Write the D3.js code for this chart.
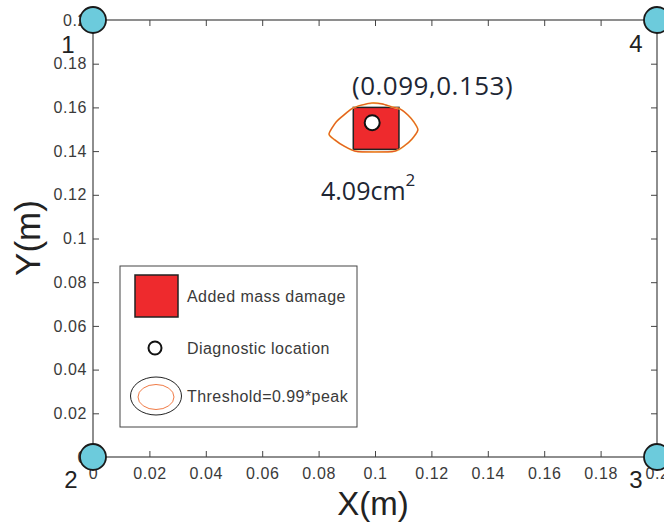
<!DOCTYPE html>
<html><head><meta charset="utf-8">
<script src="https://cdn.jsdelivr.net/npm/d3@7"></script>
<style>
html,body{margin:0;padding:0;background:#fff;}
svg{display:block;}
</style></head>
<body>
<svg id="chart" width="664" height="525"></svg>
<script>
// ---- data ----
const xTicks = [0,0.02,0.04,0.06,0.08,0.1,0.12,0.14,0.16,0.18,0.2];
const yTicks = [0,0.02,0.04,0.06,0.08,0.1,0.12,0.14,0.16,0.18,0.2];
const sensorIds = ["1","2","3","4"];
const sensorX = [0, 0, 0.2, 0.2];
const sensorY = [0.2, 0, 0, 0.2];
const damageX = [0.0923, 0.1085];
const damageY = [0.1408, 0.1600];
const diagnosticX = 0.099;
const diagnosticY = 0.153;
const contourX = [0.0837,0.0862,0.0894,0.0922,0.0954,0.0989,0.1025,0.1060,0.1089,0.1117,0.1138,0.1152,0.1131,0.1103,0.1071,0.1000,0.0929,0.0890,0.0858];
const contourY = [0.1478,0.1533,0.1570,0.1597,0.1611,0.1620,0.1616,0.1602,0.1593,0.1565,0.1533,0.1497,0.1455,0.1423,0.1400,0.1396,0.1400,0.1423,0.1451];
const locationLabel = "(0.099,0.153)";
const areaLabel = "4.09cm";
const legendLabels = ["Added mass damage","Diagnostic location","Threshold=0.99*peak"];

// ---- layout ----
const svg = d3.select("#chart");
const L = 93, R = 657, T = 20, B = 457;
const x = d3.scaleLinear().domain([0,0.2]).range([L,R]);
const y = d3.scaleLinear().domain([0,0.2]).range([B,T]);
const tickFont = "'Liberation Sans', Arial, sans-serif";
const fmt = d => d === 0 ? "0" : String(+d.toFixed(2));

// frame
svg.append("rect").attr("x",L).attr("y",T).attr("width",R-L).attr("height",B-T)
  .attr("fill","none").attr("stroke","#444").attr("stroke-width",1.2);

// axes
const axB = d3.axisBottom(x).tickValues(xTicks).tickFormat(fmt).tickSizeInner(-6).tickSizeOuter(0).tickPadding(11);
const axL = d3.axisLeft(y).tickValues(yTicks).tickFormat(fmt).tickSizeInner(-6).tickSizeOuter(0).tickPadding(6);
const axT = d3.axisTop(x).tickValues(xTicks).tickFormat("").tickSizeInner(-6).tickSizeOuter(0);
const axR = d3.axisRight(y).tickValues(yTicks).tickFormat("").tickSizeInner(-6).tickSizeOuter(0);
function style(g){
  g.select(".domain").remove();
  g.selectAll(".tick line").attr("stroke","#444").attr("stroke-width",1);
  g.selectAll(".tick text").attr("fill","#3a3a3a").attr("font-family",tickFont)
    .attr("font-size",16).attr("letter-spacing","0.6px");
}
svg.append("g").attr("transform",`translate(0,${B})`).call(axB).call(style);
svg.append("g").attr("transform",`translate(${L},0)`).call(axL).call(style);
svg.append("g").attr("transform",`translate(0,${T})`).call(axT).call(style);
svg.append("g").attr("transform",`translate(${R},0)`).call(axR).call(style);

// axis titles
svg.append("text").attr("x",373).attr("y",515).attr("text-anchor","middle")
  .attr("font-family",tickFont).attr("font-size",33).attr("fill","#222").text("X(m)");
svg.append("text").attr("transform","translate(40,238) rotate(-90)").attr("text-anchor","middle")
  .attr("font-family",tickFont).attr("font-size",35).attr("fill","#222").text("Y(m)");

// damage square
svg.append("rect")
  .attr("x",x(damageX[0])).attr("y",y(damageY[1]))
  .attr("width",x(damageX[1])-x(damageX[0])).attr("height",y(damageY[0])-y(damageY[1]))
  .attr("fill","#ee2a2d").attr("stroke","#222").attr("stroke-width",1.5);

// threshold contour
const pts = contourX.map((d,i)=>[x(d), y(contourY[i])]);
const line = d3.line().curve(d3.curveCardinalClosed.tension(0.3));
svg.append("path").attr("d",line(pts)).attr("fill","none").attr("stroke","#f3d24a").attr("stroke-width",1.8);
svg.append("path").attr("d",line(pts)).attr("fill","none").attr("stroke","#e4502c").attr("stroke-width",1.1);

// diagnostic location
svg.append("circle").attr("cx",x(diagnosticX)).attr("cy",y(diagnosticY)).attr("r",7.5)
  .attr("fill","#fff").attr("stroke","#111").attr("stroke-width",2);

// annotations
const annFont = "'Open Sans', 'Noto Sans', sans-serif";
svg.append("text").attr("x",352).attr("y",95).attr("font-family",annFont).attr("font-size",26)
  .attr("letter-spacing","0.5px").attr("fill","#1e2633").text(locationLabel);
const at = svg.append("text").attr("x",321).attr("y",200).attr("font-family",annFont).attr("font-size",25).attr("fill","#1e2633");
at.append("tspan").text(areaLabel);
at.append("tspan").attr("dy",-14).attr("font-size",17).text("2");

// legend
const lg = svg.append("g");
lg.append("rect").attr("x",120).attr("y",266).attr("width",237).attr("height",161)
  .attr("fill","#fff").attr("stroke","#444").attr("stroke-width",1);
lg.append("rect").attr("x",135).attr("y",275).attr("width",43).attr("height",42)
  .attr("fill","#ee2a2d").attr("stroke","#222").attr("stroke-width",1.5);
lg.append("circle").attr("cx",155).attr("cy",348).attr("r",6.5)
  .attr("fill","#fff").attr("stroke","#111").attr("stroke-width",2);
lg.append("ellipse").attr("cx",156).attr("cy",396).attr("rx",25.5).attr("ry",19)
  .attr("fill","none").attr("stroke","#222").attr("stroke-width",1);
lg.append("ellipse").attr("cx",156).attr("cy",397).attr("rx",18).attr("ry",12.5)
  .attr("fill","none").attr("stroke","#f07a45").attr("stroke-width",1);
const legY = [296, 348, 396];
lg.selectAll("text.leg").data(legendLabels).join("text").attr("class","leg")
  .attr("x",187).attr("y",(d,i)=>legY[i]).attr("dy","0.35em")
  .attr("font-family",tickFont).attr("font-size",16).attr("letter-spacing","0.45px")
  .attr("fill","#3a3a3a").text(d=>d);

// sensors
svg.selectAll("circle.sensor").data(sensorIds).join("circle").attr("class","sensor")
  .attr("cx",(d,i)=>x(sensorX[i])).attr("cy",(d,i)=>y(sensorY[i])).attr("r",13)
  .attr("fill","#6ccbdc").attr("stroke","#1a1a1a").attr("stroke-width",1.8);
const labPos = [[68,53],[71,488],[636,488],[636,52]];
svg.selectAll("text.sid").data(sensorIds).join("text").attr("class","sid")
  .attr("x",(d,i)=>labPos[i][0]).attr("y",(d,i)=>labPos[i][1]).attr("text-anchor","middle")
  .attr("font-family",tickFont).attr("font-size",24).attr("fill","#222").text(d=>d);
</script>
</body></html>
